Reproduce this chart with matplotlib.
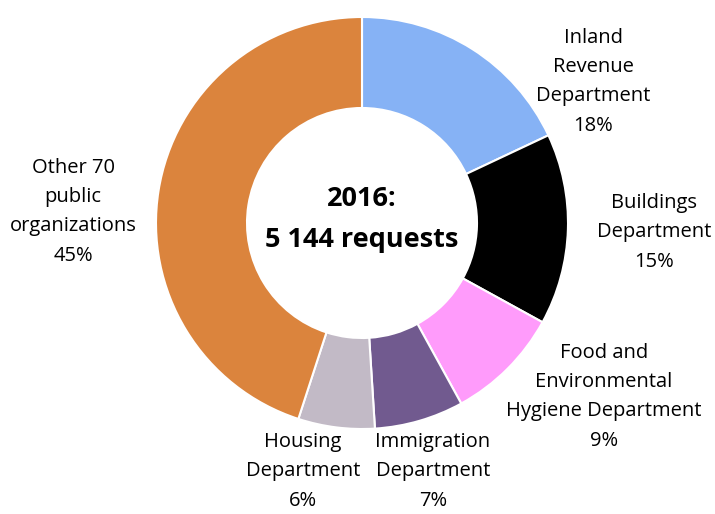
import matplotlib.pyplot as plt

# data
names = ['Inland\nRevenue\nDepartment', 'Buildings\nDepartment',
         'Food and\nEnvironmental\nHygiene Department', 'Immigration\nDepartment',
         'Housing\nDepartment', 'Other 70\npublic\norganizations']
shares = [18, 15, 9, 7, 6, 45]
colors = ['#86b2f5', '#000000', '#ff9bfb', '#715a8f', '#c2bac6', '#db843d']
center_lines = ['2016:', '5 144 requests']

# label anchors in pixels: (centre x, first-line baseline y from top)
label_xy = [(593, 43), (654, 208), (604, 358), (433, 447), (303, 447), (73, 173)]
LINE_PX = 29.3


def main():
    plt.rcParams['font.family'] = ['Open Sans', 'DejaVu Sans']
    W, H = 715, 514
    fig = plt.figure(figsize=(W / 100, H / 100), dpi=100)
    ax = fig.add_axes([0, 0, 1, 1])

    cx, cy, r = 362, H - 223, 206
    ax.pie(shares, colors=colors, startangle=90, counterclock=False,
           center=(cx, cy), radius=r,
           wedgeprops=dict(width=r - 115, edgecolor='white', linewidth=1.5))
    ax.set_xlim(0, W)
    ax.set_ylim(0, H)
    ax.set_aspect('auto')
    ax.axis('off')

    for (name, pct), (x, y) in zip(zip(names, shares), label_xy):
        n = name.count('\n') + 1
        # va='baseline' on multi-line text pins the last line's baseline
        ax.text(x, H - (y + n * LINE_PX), f'{name}\n{pct}%', ha='center',
                va='baseline', fontsize=14.5, linespacing=1.63, color='#000000')

    for line, y in zip(center_lines, [206, 247]):
        ax.text(cx, H - y, line, ha='center', va='baseline',
                fontsize=19.5, fontweight='bold')

    fig.savefig('out.png', dpi=100)


if __name__ == '__main__':
    main()
